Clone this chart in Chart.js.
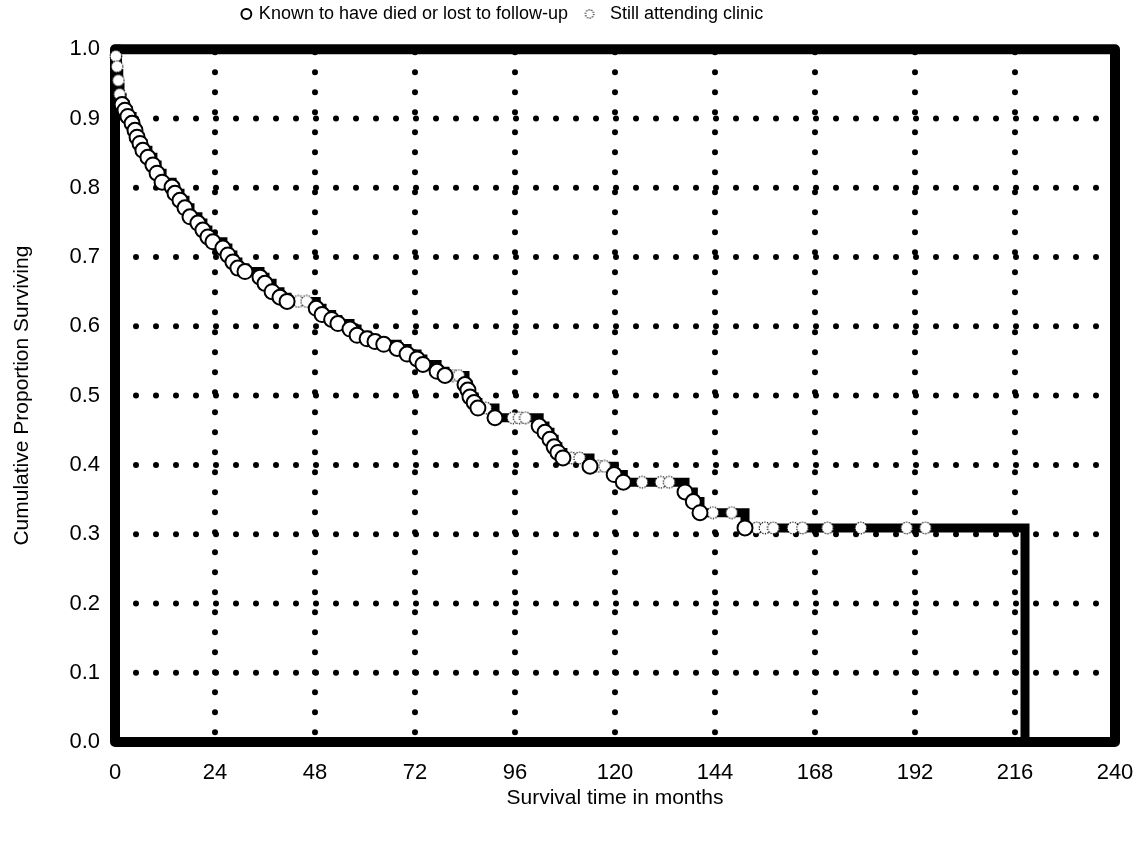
<!DOCTYPE html>
<html><head><meta charset="utf-8">
<script src="https://cdn.jsdelivr.net/npm/chart.js@4.4.0/dist/chart.umd.min.js"></script>
<style>html,body{margin:0;padding:0;background:#fff}canvas{display:block}</style>
</head><body>
<canvas id="c" width="1143" height="841"></canvas>
<script>
// ---- data ----
const xTickValues = [0, 24, 48, 72, 96, 120, 144, 168, 192, 216, 240];
const yTickValues = [0, 0.1, 0.2, 0.3, 0.4, 0.5, 0.6, 0.7, 0.8, 0.9, 1.0];
const legendLabels = ['Known to have died or lost to follow-up', 'Still attending clinic'];
const xTitle = 'Survival time in months';
const yTitle = 'Cumulative Proportion Surviving';

// Kaplan-Meier step curve (month, proportion after the step)
const stepMonths = [0, 0.3, 0.6, 0.9, 1.2, 1.7, 2.4, 3.1, 4.1, 4.8, 5.3, 6.0, 6.7, 7.9, 9.1, 10.1, 11.3, 13.7, 14.4, 15.6, 16.8, 18.0, 19.9, 21.1, 22.3, 23.5, 25.9, 27.1, 28.3, 29.5, 31.2, 34.8, 36.0, 37.7, 39.6, 41.3, 48.3, 49.7, 52.0, 53.5, 56.4, 58.1, 60.5, 62.4, 64.5, 67.7, 70.1, 72.5, 73.9, 77.3, 79.2, 84.0, 84.7, 85.2, 86.2, 87.1, 91.2, 101.8, 103.2, 104.4, 105.4, 106.3, 107.5, 114.0, 119.8, 122.0, 136.8, 138.8, 140.4, 151.2, 218.4];
const stepSurvival = [1.0, 0.985, 0.965, 0.945, 0.93, 0.92, 0.912, 0.903, 0.893, 0.883, 0.873, 0.864, 0.854, 0.844, 0.833, 0.821, 0.808, 0.801, 0.792, 0.782, 0.771, 0.758, 0.749, 0.739, 0.729, 0.722, 0.713, 0.703, 0.693, 0.684, 0.679, 0.671, 0.662, 0.650, 0.642, 0.636, 0.626, 0.617, 0.610, 0.604, 0.596, 0.587, 0.582, 0.578, 0.574, 0.568, 0.560, 0.553, 0.545, 0.535, 0.529, 0.516, 0.508, 0.498, 0.490, 0.482, 0.468, 0.456, 0.447, 0.437, 0.426, 0.418, 0.410, 0.398, 0.386, 0.375, 0.361, 0.347, 0.331, 0.309, 0.0];

// Known to have died or lost to follow-up (circles)
const diedMonths = [1.7, 2.4, 3.1, 4.1, 4.8, 5.3, 6.0, 6.7, 7.9, 9.1, 10.1, 11.3, 13.7, 14.4, 15.6, 16.8, 18.0, 19.9, 21.1, 22.3, 23.5, 25.9, 27.1, 28.3, 29.5, 31.2, 34.8, 36.0, 37.7, 39.6, 41.3, 48.3, 49.7, 52.0, 53.5, 56.4, 58.1, 60.5, 62.4, 64.5, 67.7, 70.1, 72.5, 73.9, 77.3, 79.2, 84.0, 84.7, 85.2, 86.2, 87.1, 91.2, 101.8, 103.2, 104.4, 105.4, 106.3, 107.5, 114.0, 119.8, 122.0, 136.8, 138.8, 140.4, 151.2];
const diedSurvival = [0.92, 0.912, 0.903, 0.893, 0.883, 0.873, 0.864, 0.854, 0.844, 0.833, 0.821, 0.808, 0.801, 0.792, 0.782, 0.771, 0.758, 0.749, 0.739, 0.729, 0.722, 0.713, 0.703, 0.693, 0.684, 0.679, 0.671, 0.662, 0.650, 0.642, 0.636, 0.626, 0.617, 0.610, 0.604, 0.596, 0.587, 0.582, 0.578, 0.574, 0.568, 0.560, 0.553, 0.545, 0.535, 0.529, 0.516, 0.508, 0.498, 0.490, 0.482, 0.468, 0.456, 0.447, 0.437, 0.426, 0.418, 0.410, 0.398, 0.386, 0.375, 0.361, 0.347, 0.331, 0.309];

// Still attending clinic (censored)
const attendMonths = [0.2, 0.5, 0.8, 1.1, 44.0, 46.0, 81.0, 82.5, 89.0, 95.5, 97.0, 98.5, 109.5, 111.5, 116.0, 117.5, 126.5, 131.0, 133.0, 143.5, 148.0, 154.0, 156.0, 158.0, 162.7, 165.0, 171.0, 179.0, 190.0, 194.5];
const attendSurvival = [0.99, 0.975, 0.955, 0.935, 0.636, 0.636, 0.529, 0.529, 0.482, 0.468, 0.468, 0.468, 0.410, 0.410, 0.398, 0.398, 0.375, 0.375, 0.375, 0.331, 0.331, 0.309, 0.309, 0.309, 0.309, 0.309, 0.309, 0.309, 0.309, 0.309];

// ---- styling helpers ----
const FONT = "'Liberation Sans', Arial, Helvetica, sans-serif";
Chart.defaults.color = '#000';
Chart.defaults.font.family = FONT;

function dottedCircle(w, cx, r) {
  const c = document.createElement('canvas');
  c.width = w; c.height = 14;
  const g = c.getContext('2d');
  g.beginPath(); g.arc(cx, 7, r, 0, Math.PI * 2);
  g.fillStyle = '#fff'; g.fill();
  g.setLineDash([1.2, 1.4]); g.lineWidth = 1.2; g.strokeStyle = '#000'; g.stroke();
  return c;
}
const attendStyle = dottedCircle(14, 7, 5.8);
const attendLegendStyle = dottedCircle(30, 7, 4.2); // marker drawn to the left of its box

const toPts = (xs, ys) => xs.map((m, i) => ({x: m, y: ys[i]}));

const framePlugin = {
  id: 'frame',
  beforeDraw(chart) {
    const lg = chart.legend;
    if (lg && !lg._shifted) {
      const dx = 503 - (lg.left + lg.right) / 2;
      lg.left += dx; lg.right += dx; lg._shifted = true;
    }
  },
  beforeDatasetsDraw(chart) {
    const {ctx, chartArea: a, scales: {x, y}} = chart;
    ctx.save();
    ctx.strokeStyle = '#000';
    ctx.lineCap = 'round';
    ctx.lineWidth = 6;
    ctx.setLineDash([0, 20]);
    xTickValues.forEach(v => {
      if (v <= x.min || v >= x.max) return;
      const px = x.getPixelForValue(v);
      ctx.beginPath(); ctx.moveTo(px, a.top + 3); ctx.lineTo(px, a.bottom); ctx.stroke();
    });
    yTickValues.forEach(v => {
      if (v <= y.min || v >= y.max) return;
      const py = y.getPixelForValue(v);
      ctx.beginPath(); ctx.moveTo(a.left + 1, py); ctx.lineTo(a.right, py); ctx.stroke();
    });
    ctx.setLineDash([]);
    ctx.lineWidth = 10;
    ctx.lineJoin = 'round';
    ctx.strokeRect(a.left, a.top, a.right - a.left, a.bottom - a.top);
    ctx.restore();
  }
};

new Chart(document.getElementById('c'), {
  type: 'line',
  data: {
    datasets: [
      {
        label: 'curve',
        data: toPts(stepMonths, stepSurvival),
        stepped: true,
        borderColor: '#000',
        borderWidth: 9,
        pointRadius: 0,
        fill: false,
        clip: false,
        order: 3
      },
      {
        label: legendLabels[0],
        data: toPts(diedMonths, diedSurvival),
        showLine: false,
        pointStyle: 'circle',
        pointRadius: 7.5,
        pointBorderWidth: 2,
        pointBackgroundColor: '#fff',
        pointBorderColor: '#000',
        backgroundColor: '#fff',
        borderColor: '#000',
        borderWidth: 1.3,
        clip: false,
        order: 1
      },
      {
        label: legendLabels[1],
        data: toPts(attendMonths, attendSurvival),
        showLine: false,
        pointStyle: attendStyle,
        pointRadius: 6,
        backgroundColor: '#fff',
        borderColor: '#000',
        borderWidth: 1,
        clip: false,
        order: 2
      }
    ]
  },
  options: {
    responsive: false,
    animation: false,
    devicePixelRatio: 1,
    layout: {padding: {left: 0, right: 28, top: -21, bottom: 0}},
    plugins: {
      tooltip: {enabled: false},
      title: {display: true, text: '', weight: 2000, font: {size: 1}, padding: {top: 15, bottom: 0}},
      legend: {
        display: true,
        position: 'top',
        align: 'center',
        weight: 3000,
        labels: {
          usePointStyle: true,
          boxWidth: 7,
          boxHeight: 7,
          padding: 26,
          color: '#000',
          font: {size: 18, family: FONT},
          filter: item => item.datasetIndex !== 0,
          generateLabels: chart => {
            const items = Chart.defaults.plugins.legend.labels.generateLabels(chart);
            items.forEach(it => { if (it.datasetIndex === 2) it.pointStyle = attendLegendStyle; });
            return items;
          }
        }
      }
    },
    scales: {
      x: {
        type: 'linear',
        min: 0, max: 240,
        afterBuildTicks: s => { s.ticks = xTickValues.map(v => ({value: v})); },
        afterFit: s => { s.height = 99; s.paddingLeft = 0; s.paddingRight = 0; },
        grid: {display: false, drawTicks: false},
        border: {display: false},
        ticks: {padding: 18, font: {size: 22, family: FONT}, color: '#000', callback: v => String(v), maxRotation: 0, autoSkip: false},
        title: {display: true, text: xTitle, color: '#000', font: {size: 21, family: FONT}, padding: {top: 0, bottom: 30}}
      },
      y: {
        type: 'linear',
        min: 0, max: 1,
        afterBuildTicks: s => { s.ticks = yTickValues.map(v => ({value: v})); },
        afterFit: s => { s.width = 115; },
        grid: {display: false, drawTicks: false},
        border: {display: false},
        ticks: {padding: 15, font: {size: 22, family: FONT}, color: '#000', callback: v => Number(v).toFixed(1), autoSkip: false},
        title: {display: true, text: yTitle, color: '#000', font: {size: 21, family: FONT}, padding: {top: 9.5, bottom: 0}}
      }
    }
  },
  plugins: [framePlugin]
});
</script>
</body></html>
